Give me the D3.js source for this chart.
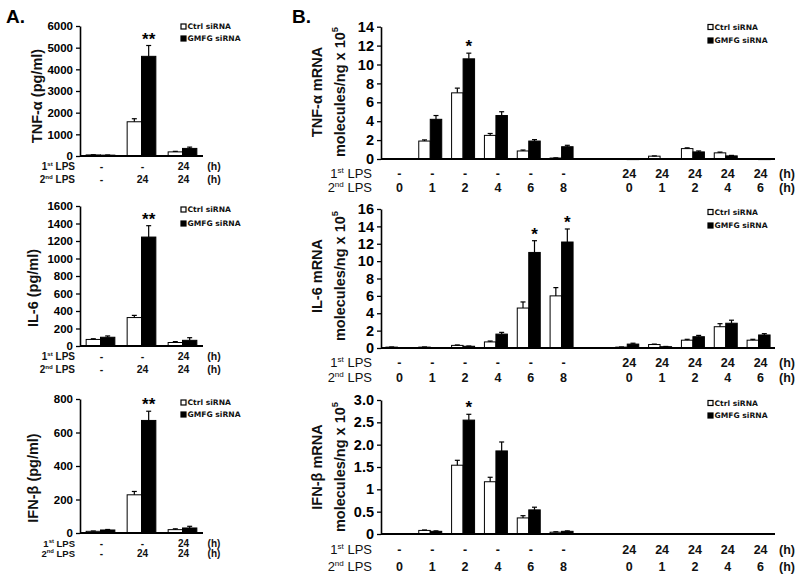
<!DOCTYPE html>
<html><head><meta charset="utf-8">
<script src="https://cdn.jsdelivr.net/npm/d3@7"></script>
<style>body{margin:0;background:#fff}svg{display:block}</style>
</head><body>
<svg id="chart" width="800" height="580"></svg>
<script>
// ---------- Panel A data (protein, pg/ml) ----------
const catsA = ["none", "2nd only", "1st+2nd"];
const rowA1 = ["-", "-", "24"];
const rowA2 = ["-", "24", "24"];

const tnfTicks = [0, 1000, 2000, 3000, 4000, 5000, 6000];
const tnfCtrl = [50, 1580, 190];
const tnfCtrlErr = [8, 140, 25];
const tnfGmfg = [40, 4600, 350];
const tnfGmfgErr = [8, 500, 60];
const tnfSig = ["", "**", ""];

const il6Ticks = [0, 200, 400, 600, 800, 1000, 1200, 1400, 1600];
const il6Ctrl = [75, 325, 40];
const il6CtrlErr = [8, 25, 10];
const il6Gmfg = [100, 1245, 65];
const il6GmfgErr = [15, 130, 30];
const il6Sig = ["", "**", ""];

const ifnTicks = [0, 200, 400, 600, 800];
const ifnCtrl = [10, 228, 20];
const ifnCtrlErr = [2, 20, 5];
const ifnGmfg = [18, 672, 30];
const ifnGmfgErr = [3, 55, 10];
const ifnSig = ["", "**", ""];

// ---------- Panel B data (mRNA, molecules/ng x 10^5) ----------
const catsB = ["0", "1", "2", "4", "6", "8", "gap", "24-0", "24-1", "24-2", "24-4", "24-6"];
const rowB1 = ["-", "-", "-", "-", "-", "-", "", "24", "24", "24", "24", "24"];
const rowB2 = ["0", "1", "2", "4", "6", "8", "", "0", "1", "2", "4", "6"];

const tnfmTicks = [0, 2, 4, 6, 8, 10, 12, 14];
const tnfmCtrl = [0, 1.9, 7.0, 2.5, 0.85, 0.1, null, 0.04, 0.3, 1.1, 0.65, 0.04];
const tnfmCtrlErr = [0, 0.12, 0.5, 0.2, 0.1, 0.02, null, 0, 0.03, 0.08, 0.08, 0];
const tnfmGmfg = [0, 4.2, 10.6, 4.6, 1.9, 1.3, null, 0.02, 0, 0.75, 0.33, 0.02];
const tnfmGmfgErr = [0, 0.4, 0.6, 0.4, 0.15, 0.15, null, 0, 0, 0.1, 0.05, 0];
const tnfmSig = ["", "", "*", "", "", "", "", "", "", "", "", ""];

const il6mTicks = [0, 2, 4, 6, 8, 10, 12, 14, 16];
const il6mCtrl = [0.1, 0.1, 0.3, 0.7, 4.6, 6.0, null, 0.1, 0.4, 0.9, 2.45, 0.9];
const il6mCtrlErr = [0.02, 0.02, 0.05, 0.1, 0.7, 0.95, null, 0.02, 0.05, 0.1, 0.35, 0.1];
const il6mGmfg = [0, 0, 0.2, 1.6, 11.0, 12.2, null, 0.45, 0.15, 1.3, 2.85, 1.5];
const il6mGmfgErr = [0, 0, 0.03, 0.2, 1.35, 1.5, null, 0.1, 0.03, 0.15, 0.35, 0.15];
const il6mSig = ["", "", "", "", "*", "*", "", "", "", "", "", ""];

const ifnmTicks = [0, 0.5, 1, 1.5, 2, 2.5, 3];
const ifnmTickLabels = ["0", "0.5", "1", "1.5", "2.0", "2.5", "3.0"];
const ifnmCtrl = [0, 0.08, 1.54, 1.17, 0.36, 0.04, null, 0, 0, 0, 0, 0];
const ifnmCtrlErr = [0, 0.01, 0.11, 0.1, 0.05, 0.01, null, 0, 0, 0, 0, 0];
const ifnmGmfg = [0, 0.06, 2.55, 1.86, 0.54, 0.06, null, 0, 0, 0, 0, 0];
const ifnmGmfgErr = [0, 0.01, 0.13, 0.2, 0.06, 0.01, null, 0, 0, 0, 0, 0];
const ifnmSig = ["", "", "*", "", "", "", "", "", "", "", "", ""];

const legendLabels = ["Ctrl siRNA", "GMFG siRNA"];

// ---------- drawing ----------
const svg = d3.select("#chart");
const FONT = "'Liberation Sans', Arial, sans-serif";

function drawPanel(c) {
  const g = svg.append("g");
  const x = d3.scaleBand().domain(c.cats).range([c.x0, c.x1]);
  const bw = x.step() * 0.35;
  const y = d3.scaleLinear().domain([0, c.ticks[c.ticks.length - 1]]).range([c.yBot, c.yTop]);

  const series = [
    {vals: c.ctrl, errs: c.ctrlErr, fill: "#fff", off: -bw},
    {vals: c.gmfg, errs: c.gmfgErr, fill: "#000", off: 0}
  ];
  series.forEach(s => {
    c.cats.forEach((cat, i) => {
      const v = s.vals[i];
      if (v === null || v === undefined) return;
      const cx = x(cat) + x.step() / 2 + s.off;
      const top = y(v);
      if (v > 0) {
        g.append("rect").attr("x", cx).attr("y", top).attr("width", bw)
          .attr("height", Math.max(0.8, y(0) - top))
          .attr("fill", s.fill).attr("stroke", "#000").attr("stroke-width", 1);
      }
      const e = s.errs[i];
      if (e > 0) {
        const mx = cx + bw / 2;
        const et = y(v + e);
        g.append("line").attr("x1", mx).attr("x2", mx).attr("y1", top).attr("y2", et)
          .attr("stroke", "#000").attr("stroke-width", 1.2);
        g.append("line").attr("x1", mx - 2.5).attr("x2", mx + 2.5).attr("y1", et).attr("y2", et)
          .attr("stroke", "#000").attr("stroke-width", 1.2);
      }
    });
  });

  c.cats.forEach((cat, i) => {
    if (!c.sig[i]) return;
    const v = c.gmfg[i] + c.gmfgErr[i];
    const cx = x(cat) + x.step() / 2 + bw / 2;
    g.append("text").attr("x", cx).attr("y", y(v) - 1).attr("text-anchor", "middle")
      .attr("font-family", FONT).attr("font-weight", "bold").attr("font-size", c.sigSize)
      .text(c.sig[i]);
  });

  const ax = d3.axisLeft(y).tickValues(c.ticks).tickSize(4).tickSizeOuter(0).tickPadding(3)
    .tickFormat((d, i) => c.tickLabels ? c.tickLabels[i] : d3.format("d")(d));
  const ag = g.append("g").attr("transform", `translate(${c.x0},0)`).call(ax);
  ag.select(".domain").attr("stroke", "#000").attr("stroke-width", 1.6);
  ag.selectAll(".tick line").attr("stroke", "#000").attr("stroke-width", 1.3);
  ag.selectAll(".tick text").attr("font-family", FONT).attr("font-weight", "bold")
    .attr("font-size", c.tickSize).attr("fill", "#000");

  g.append("line").attr("x1", c.x0).attr("x2", c.x1).attr("y1", y(0)).attr("y2", y(0))
    .attr("stroke", "#000").attr("stroke-width", 1.8);

  const rows = [{num: "1", sup: "st", vals: c.row1, yy: c.rowY[0]}, {num: "2", sup: "nd", vals: c.row2, yy: c.rowY[1]}];
  rows.forEach(r => {
    const t = g.append("text").attr("x", c.rowLabelX).attr("y", r.yy).attr("text-anchor", "end")
      .attr("font-family", FONT).attr("font-size", c.rowSize).attr("font-weight", c.rowWeight)
      .attr("fill", "#111");
    t.append("tspan").text(r.num);
    t.append("tspan").attr("font-size", c.rowSize * 0.62).attr("dy", -c.rowSize * 0.38).text(r.sup);
    t.append("tspan").attr("dy", c.rowSize * 0.38).text(" LPS");
    c.cats.forEach((cat, i) => {
      if (!r.vals[i]) return;
      g.append("text").attr("x", x(cat) + x.step() / 2 + c.valShift).attr("y", r.yy)
        .attr("text-anchor", "middle").attr("font-family", FONT).attr("font-weight", "bold")
        .attr("font-size", c.valSize).attr("fill", "#111").text(r.vals[i]);
    });
    g.append("text").attr("x", c.hX).attr("y", r.yy).attr("text-anchor", "middle")
      .attr("font-family", FONT).attr("font-weight", "bold").attr("font-size", c.valSize)
      .attr("fill", "#111").text("(h)");
  });

  c.yLabels.forEach(L => {
    const t = g.append("text").attr("transform", `translate(${L.x},${c.labelY}) rotate(-90)`)
      .attr("text-anchor", "middle").attr("font-family", FONT).attr("font-weight", "bold")
      .attr("font-size", L.size).attr("fill", "#111");
    t.append("tspan").text(L.text);
    if (L.sup) t.append("tspan").attr("font-size", L.size * 0.65).attr("dy", -L.size * 0.45).text(L.sup);
  });

  legendLabels.forEach((lab, i) => {
    const by = c.legY[i];
    g.append("rect").attr("x", c.legX).attr("y", by - 5).attr("width", 5).attr("height", 5)
      .attr("fill", i === 0 ? "#fff" : "#000").attr("stroke", "#000").attr("stroke-width", 1.2);
    g.append("text").attr("x", c.legX + 6.5).attr("y", by).attr("font-family", "'DejaVu Sans', Verdana, sans-serif")
      .attr("font-weight", "bold").attr("font-size", 7.6).attr("fill", "#111").text(lab);
  });
}

const baseA = {cats: catsA, x0: 80, x1: 203, row1: rowA1, row2: rowA2, tickSize: 11.5,
  rowLabelX: 75, rowSize: 10, rowWeight: "bold", valSize: 10.5, valShift: 1, hX: 214,
  sigSize: 17, legX: 181};
drawPanel(Object.assign({}, baseA, {yTop: 26, yBot: 156, ticks: tnfTicks, ctrl: tnfCtrl, ctrlErr: tnfCtrlErr,
  gmfg: tnfGmfg, gmfgErr: tnfGmfgErr, sig: tnfSig, rowY: [170, 183], legY: [29, 41], labelY: 96,
  yLabels: [{x: 42, size: 14.5, text: "TNF-α (pg/ml)"}]}));
drawPanel(Object.assign({}, baseA, {yTop: 206, yBot: 346, ticks: il6Ticks, ctrl: il6Ctrl, ctrlErr: il6CtrlErr,
  gmfg: il6Gmfg, gmfgErr: il6GmfgErr, sig: il6Sig, rowY: [360, 373], legY: [212, 226], labelY: 288,
  yLabels: [{x: 38, size: 14.5, text: "IL-6 (pg/ml)"}]}));
drawPanel(Object.assign({}, baseA, {yTop: 399, yBot: 533, ticks: ifnTicks, ctrl: ifnCtrl, ctrlErr: ifnCtrlErr,
  gmfg: ifnGmfg, gmfgErr: ifnGmfgErr, sig: ifnSig, rowY: [547, 557], rowSize: 9.5, valSize: 10,
  legY: [405, 417], labelY: 478,
  yLabels: [{x: 38, size: 14.5, text: "IFN-β (pg/ml)"}]}));

const baseB = {cats: catsB, x0: 381, x1: 775, row1: rowB1, row2: rowB2, tickSize: 14.5,
  rowLabelX: 372, rowSize: 13, rowWeight: "normal", valSize: 12.5, valShift: 2, hX: 787,
  sigSize: 17, legX: 708};
drawPanel(Object.assign({}, baseB, {yTop: 26.7, yBot: 159, ticks: tnfmTicks, ctrl: tnfmCtrl, ctrlErr: tnfmCtrlErr,
  gmfg: tnfmGmfg, gmfgErr: tnfmGmfgErr, sig: tnfmSig, rowY: [178, 192], legY: [29.5, 43], labelY: 92,
  yLabels: [{x: 322, size: 14.5, text: "TNF-α mRNA"}, {x: 345, size: 14.5, text: "molecules/ng x 10", sup: "5"}]}));
drawPanel(Object.assign({}, baseB, {yTop: 209, yBot: 348, ticks: il6mTicks, ctrl: il6mCtrl, ctrlErr: il6mCtrlErr,
  gmfg: il6mGmfg, gmfgErr: il6mGmfgErr, sig: il6mSig, rowY: [367, 382], legY: [214.5, 228], labelY: 276,
  yLabels: [{x: 322, size: 14.5, text: "IL-6 mRNA"}, {x: 345, size: 14.5, text: "molecules/ng x 10", sup: "5"}]}));
drawPanel(Object.assign({}, baseB, {yTop: 400, yBot: 534, ticks: ifnmTicks, tickLabels: ifnmTickLabels,
  ctrl: ifnmCtrl, ctrlErr: ifnmCtrlErr, gmfg: ifnmGmfg, gmfgErr: ifnmGmfgErr, sig: ifnmSig,
  rowY: [554, 571], legY: [405.5, 418], labelY: 467,
  yLabels: [{x: 322, size: 14.5, text: "IFN-β mRNA"}, {x: 345, size: 14.5, text: "molecules/ng x 10", sup: "5"}]}));

svg.append("text").attr("x", 6).attr("y", 23).attr("font-family", FONT).attr("font-weight", "bold")
  .attr("font-size", 19).text("A.");
svg.append("text").attr("x", 292).attr("y", 23).attr("font-family", FONT).attr("font-weight", "bold")
  .attr("font-size", 19).text("B.");
</script>
</body></html>
